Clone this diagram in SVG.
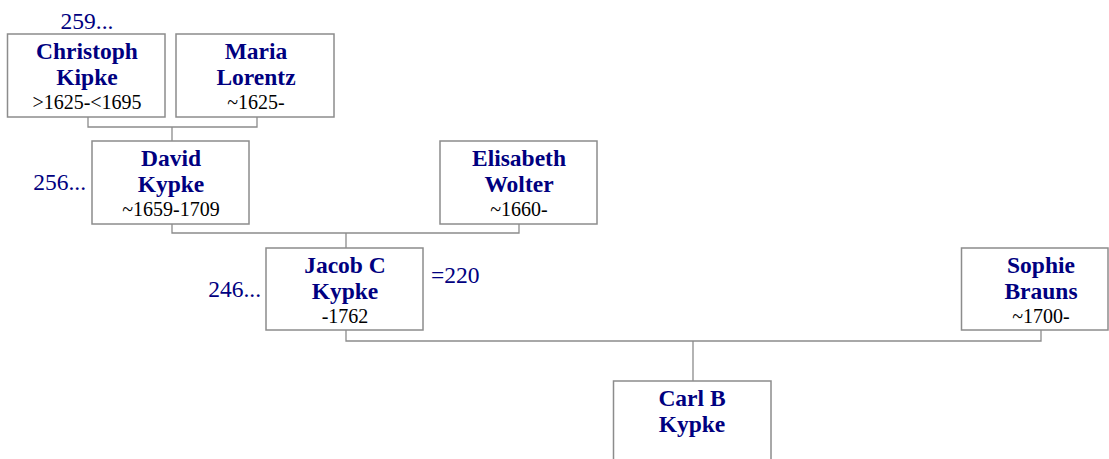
<svg xmlns="http://www.w3.org/2000/svg" width="1109" height="459" viewBox="0 0 1109 459">
<style>
.box{fill:#fff;stroke:#8c8c8c;stroke-width:1.5}
.nm{font-family:"Liberation Serif",serif;font-weight:bold;font-size:23.5px;fill:#000080;text-anchor:middle}
.dt{font-family:"Liberation Serif",serif;font-size:20px;fill:#000;text-anchor:middle}
.lb{font-family:"Liberation Serif",serif;font-size:23.5px;fill:#000080}
.ln{fill:none;stroke:#8c8c8c;stroke-width:1.3}
</style>
<rect width="1109" height="459" fill="#fff"/>
<g id="connectors">
<path class="ln" d="M88 117V127H257V117M172 127V141"/>
<path class="ln" d="M172 224V233H519V224M346 233V248"/>
<path class="ln" d="M346 330V341H1041V330M693 341V381"/>
</g>
<g id="christoph">
<rect class="box" x="7.5" y="34" width="157.5" height="83"/>
<text class="nm" x="87" y="58.5">Christoph</text>
<text class="nm" x="87" y="85">Kipke</text>
<text class="dt" x="87" y="109">&gt;1625-&lt;1695</text>
<text class="lb" x="87" y="28.5" text-anchor="middle">259...</text>
</g>
<g id="maria">
<rect class="box" x="176" y="34" width="158" height="83"/>
<text class="nm" x="256" y="58.5">Maria</text>
<text class="nm" x="256" y="85">Lorentz</text>
<text class="dt" x="256" y="109">~1625-</text>
</g>
<g id="david">
<rect class="box" x="92" y="141" width="157" height="83"/>
<text class="nm" x="171" y="165.5">David</text>
<text class="nm" x="171" y="192">Kypke</text>
<text class="dt" x="171" y="216">~1659-1709</text>
<text class="lb" x="86" y="190" text-anchor="end">256...</text>
</g>
<g id="elisabeth">
<rect class="box" x="440" y="141" width="157" height="83"/>
<text class="nm" x="519" y="165.5">Elisabeth</text>
<text class="nm" x="519" y="192">Wolter</text>
<text class="dt" x="519" y="216">~1660-</text>
</g>
<g id="jacob">
<rect class="box" x="266" y="248" width="157" height="82"/>
<text class="nm" x="345" y="272.5">Jacob C</text>
<text class="nm" x="345" y="299">Kypke</text>
<text class="dt" x="345" y="323">-1762</text>
<text class="lb" x="261" y="297" text-anchor="end">246...</text>
<text class="lb" x="431" y="283">=220</text>
</g>
<g id="sophie">
<rect class="box" x="961.5" y="248" width="146.5" height="82"/>
<text class="nm" x="1041" y="272.5">Sophie</text>
<text class="nm" x="1041" y="299">Brauns</text>
<text class="dt" x="1041" y="323">~1700-</text>
</g>
<g id="carl">
<rect class="box" x="613.5" y="381" width="157.5" height="90"/>
<text class="nm" x="692" y="405.5">Carl B</text>
<text class="nm" x="692" y="432">Kypke</text>
</g>
</svg>
